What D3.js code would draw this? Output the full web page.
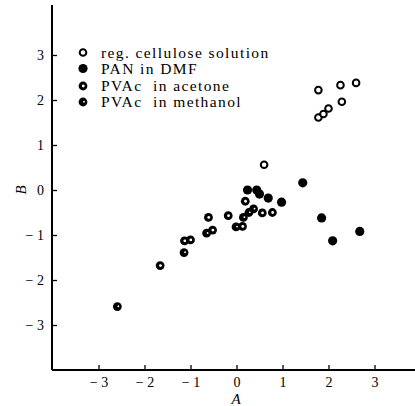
<!DOCTYPE html>
<html><head><meta charset="utf-8">
<script src="https://cdn.jsdelivr.net/npm/d3@7"></script>
<style>body{margin:0;background:#fff}svg{display:block}svg text{font-family:'Liberation Serif','Times New Roman','DejaVu Serif',serif !important;fill:#000}</style>
</head><body><svg id="c" width="415" height="406"></svg>
<script>
const seriesNames = ["reg. cellulose solution", "PAN in DMF", "PVAc  in acetone", "PVAc  in methanol"];
const celluloseA = [1.78, 2.26, 2.60, 2.29, 1.78, 1.89, 2.00, 0.60];
const celluloseB = [2.22, 2.33, 2.38, 1.96, 1.61, 1.69, 1.81, 0.56];
const panA = [0.24, 0.44, 0.50, 0.69, 0.98, 1.44, 1.85, 2.09, 2.68];
const panB = [0.00, 0.00, -0.09, -0.18, -0.27, 0.16, -0.62, -1.13, -0.92];
const acetoneA = [-0.61, -0.18, 0.19, 0.56, 0.78, -1.13, -1.00, -1.66, 0.13, -0.52];
const acetoneB = [-0.61, -0.57, -0.25, -0.51, -0.50, -1.13, -1.11, -1.68, -0.81, -0.89];
const methanolA = [-0.65, -1.14, -2.59, -0.01, 0.15, 0.27, 0.37];
const methanolB = [-0.96, -1.39, -2.59, -0.82, -0.61, -0.50, -0.42];
const xTicks = [-3, -2, -1, 0, 1, 2, 3];
const yTicks = [-3, -2, -1, 0, 1, 2, 3];

const FONT = "'Liberation Serif','Times New Roman','DejaVu Serif',serif";
const svg = d3.select("#c");
const x = d3.scaleLinear().domain([-4, 4]).range([52.5, 420.5]);
const y = d3.scaleLinear().domain([-4, 4.1]).range([370, 5.5]);
const fmt = d => d < 0 ? "\u2212 " + Math.abs(d) : String(d);

// axes
const xAxis = svg.append("g").attr("transform", "translate(0,370)")
  .call(d3.axisBottom(x).tickValues(xTicks).tickSizeInner(-5).tickSizeOuter(0).tickPadding(7).tickFormat(fmt));
const yAxis = svg.append("g").attr("transform", "translate(52,0)")
  .call(d3.axisLeft(y).tickValues(yTicks).tickSizeInner(-5).tickSizeOuter(0).tickPadding(8).tickFormat(fmt));
[xAxis, yAxis].forEach(g => {
  g.attr("font-family", FONT).attr("font-size", 14);
  g.select(".domain").remove();
  g.selectAll("line").attr("stroke", "#000").attr("stroke-width", 1.3);
  g.selectAll("text").attr("font-size", 14).style("white-space", "pre");
});
svg.append("line").attr("x1", 52).attr("x2", 415).attr("y1", 370).attr("y2", 370).attr("stroke", "#000").attr("stroke-width", 2);
svg.append("line").attr("x1", 52).attr("x2", 52).attr("y1", 5).attr("y2", 370).attr("stroke", "#000").attr("stroke-width", 2);

svg.append("text").attr("x", 236).attr("y", 404).attr("text-anchor", "middle").attr("font-size", 15).attr("font-style", "italic").text("A");
svg.append("text").attr("transform", "translate(26,190) rotate(-90)").attr("text-anchor", "middle").attr("font-size", 15).attr("font-style", "italic").text("B");

// markers
function marker(g, type, cx, cy) {
  if (type === 0) {
    g.append("circle").attr("cx", cx).attr("cy", cy).attr("r", 3.3).attr("fill", "#fff").attr("stroke", "#000").attr("stroke-width", 2);
  } else if (type === 1) {
    g.append("circle").attr("cx", cx).attr("cy", cy).attr("r", 4.6).attr("fill", "#000");
  } else if (type === 2) {
    g.append("circle").attr("cx", cx).attr("cy", cy).attr("r", 4.4).attr("fill", "#000");
    g.append("circle").attr("cx", cx + 0.3).attr("cy", cy).attr("r", 1.4).attr("fill", "#fff");
  } else {
    g.append("circle").attr("cx", cx).attr("cy", cy).attr("r", 4.4).attr("fill", "#000");
    g.append("circle").attr("cx", cx + 1).attr("cy", cy - 0.3).attr("r", 0.9).attr("fill", "#fff");
  }
}
const pts = svg.append("g");
const sets = [[celluloseA, celluloseB], [panA, panB], [acetoneA, acetoneB], [methanolA, methanolB]];
sets.forEach((s, k) => s[0].forEach((a, i) => marker(pts, k, x(a), y(s[1][i]))));

// legend
const lg = svg.append("g").attr("font-family", FONT);
const rows = [52.5, 68.5, 86, 102];
seriesNames.forEach((n, i) => {
  marker(lg, i, 83, rows[i]);
  lg.append("text").attr("x", 101).attr("y", rows[i] + 5).attr("font-size", 15.5)
    .attr("letter-spacing", 1.4).style("white-space", "pre").text(n);
});
</script></body></html>
